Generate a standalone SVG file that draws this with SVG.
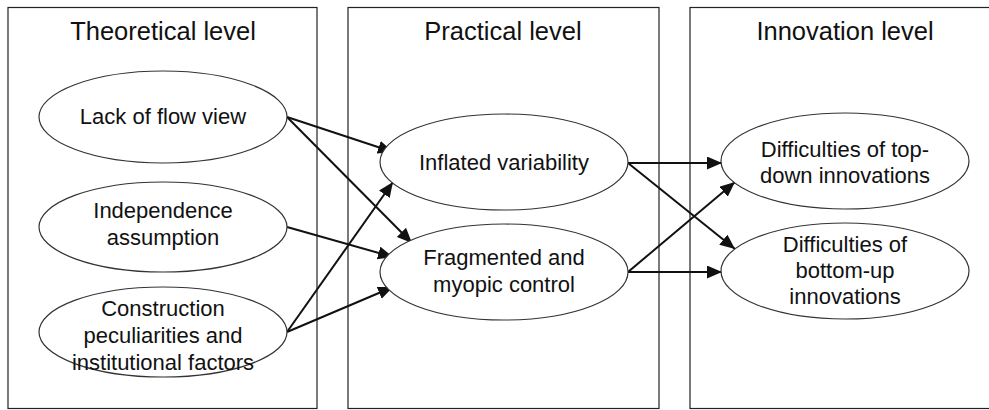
<svg xmlns="http://www.w3.org/2000/svg" width="989" height="410" viewBox="0 0 989 410">
<style>
.box{fill:none;stroke:#222;stroke-width:1.2}
.ell{fill:#fff;stroke:#333;stroke-width:1.2}
.title{font-family:"Liberation Sans",Arial,sans-serif;font-size:25.5px;fill:#111;text-anchor:middle}
.lbl{font-family:"Liberation Sans",Arial,sans-serif;font-size:22px;fill:#111;text-anchor:middle}
.arr{stroke:#111;stroke-width:2;fill:none;marker-end:url(#ah)}
</style>
<defs>
<marker id="ah" markerUnits="userSpaceOnUse" markerWidth="16" markerHeight="14" refX="15" refY="6.5" orient="auto">
<path d="M0,0 L15,6.5 L0,13 z" fill="#111"/>
</marker>
</defs>
<rect width="989" height="410" fill="#fff"/>
<g id="col-theoretical">
<rect class="box" x="8" y="7.5" width="309" height="401"/>
<text class="title" x="163" y="40">Theoretical level</text>
</g>
<g id="col-practical">
<rect class="box" x="348" y="7.5" width="311" height="401"/>
<text class="title" x="503" y="40">Practical level</text>
</g>
<g id="col-innovation">
<rect class="box" x="690" y="7.5" width="310" height="401"/>
<text class="title" x="845" y="40">Innovation level</text>
</g>
<g id="connectors">
<line class="arr" x1="287" y1="117" x2="393" y2="152"/>
<line class="arr" x1="287" y1="117" x2="412" y2="243"/>
<line class="arr" x1="287" y1="227" x2="393" y2="257"/>
<line class="arr" x1="287" y1="332" x2="393" y2="182"/>
<line class="arr" x1="287" y1="332" x2="393" y2="287"/>
<line class="arr" x1="628" y1="163" x2="722" y2="163"/>
<line class="arr" x1="628" y1="163" x2="735" y2="249"/>
<line class="arr" x1="628" y1="272" x2="735" y2="182"/>
<line class="arr" x1="628" y1="272" x2="722" y2="272"/>
</g>
<g id="n-lack">
<ellipse class="ell" cx="163" cy="117" rx="124" ry="46"/>
<text class="lbl" x="163" y="124">Lack of flow view</text>
</g>
<g id="n-independence">
<ellipse class="ell" cx="163" cy="227" rx="124" ry="45"/>
<text class="lbl" x="163" y="218">Independence</text>
<text class="lbl" x="163" y="245">assumption</text>
</g>
<g id="n-construction">
<ellipse class="ell" cx="163" cy="332" rx="124" ry="45"/>
<text class="lbl" x="163" y="316">Construction</text>
<text class="lbl" x="163" y="343">peculiarities and</text>
<text class="lbl" x="163" y="370">institutional factors</text>
</g>
<g id="n-inflated">
<ellipse class="ell" cx="504" cy="162" rx="124" ry="48"/>
<text class="lbl" x="504" y="170">Inflated variability</text>
</g>
<g id="n-fragmented">
<ellipse class="ell" cx="504" cy="272" rx="124" ry="48"/>
<text class="lbl" x="504" y="265">Fragmented and</text>
<text class="lbl" x="504" y="292">myopic control</text>
</g>
<g id="n-topdown">
<ellipse class="ell" cx="845" cy="161" rx="124" ry="48"/>
<text class="lbl" x="845" y="157">Difficulties of top-</text>
<text class="lbl" x="845" y="183">down innovations</text>
</g>
<g id="n-bottomup">
<ellipse class="ell" cx="845" cy="271" rx="124" ry="48"/>
<text class="lbl" x="845" y="252">Difficulties of</text>
<text class="lbl" x="845" y="278">bottom-up</text>
<text class="lbl" x="845" y="304">innovations</text>
</g>
</svg>
